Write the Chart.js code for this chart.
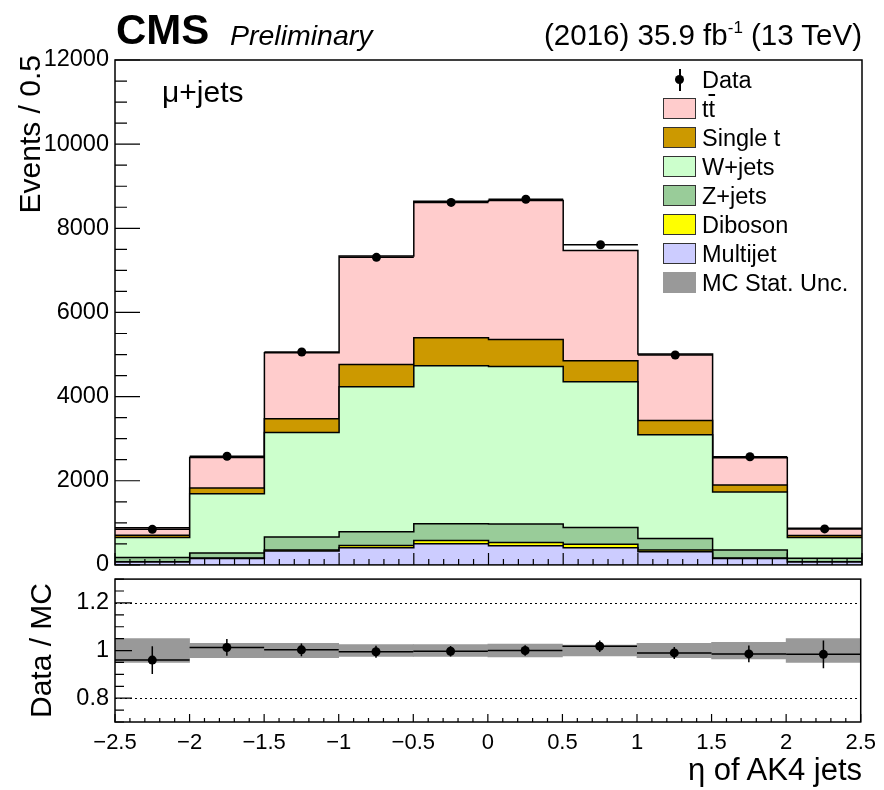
<!DOCTYPE html>
<html>
<head>
<meta charset="utf-8">
<script src="https://cdn.jsdelivr.net/npm/chart.js@4.4.1/dist/chart.umd.min.js"></script>
<style>
body { margin: 0; background: #fff; font-family: "Liberation Sans", Arial, sans-serif; }
#wrap { position: relative; width: 884px; height: 790px; overflow: hidden; }
canvas { position: absolute; left: 0; }
.t { position: absolute; white-space: nowrap; color: #000; line-height: 1; }
.leg { position: absolute; left: 663px; font-size: 23.5px; line-height: 1; }
.box { position: absolute; left: 0; width: 31px; height: 19px; border: 1px solid #333; }
.lab { position: absolute; left: 39px; white-space: nowrap; }
</style>
</head>
<body>
<div id="wrap">
  <canvas id="topPad" width="884" height="585" style="top:0"></canvas>
  <canvas id="ratioPad" width="884" height="231" style="top:559px"></canvas>

  <div class="t" style="left:116px;top:9px;font-size:42px;font-weight:bold">CMS</div>
  <div class="t" style="left:230px;top:21px;font-size:28.5px;font-style:italic">Preliminary</div>
  <div class="t" style="right:22px;top:20px;font-size:29.5px">(2016) 35.9 fb<span style="font-size:17px;position:relative;top:-12px">-1</span> (13 TeV)</div>
  <div class="t" style="left:162px;top:77px;font-size:30px">&mu;+jets</div>

  <div class="t" style="left:15px;top:455px;width:400px;text-align:right;font-size:30px;transform-origin:0 0;transform:rotate(-90deg)">Events / 0.5</div>
  <div class="t" style="left:26px;top:983px;width:400px;text-align:right;font-size:30px;transform-origin:0 0;transform:rotate(-90deg)">Data / MC</div>
  <div class="t" style="right:22px;top:754px;font-size:31px">&eta; of AK4 jets</div>

  <div id="legend"></div>
</div>
<script>
// binning in eta
const binEdges = [-2.5, -2, -1.5, -1, -0.5, 0, 0.5, 1, 1.5, 2, 2.5];
const binCenters = [-2.25, -1.75, -1.25, -0.75, -0.25, 0.25, 0.75, 1.25, 1.75, 2.25];

// stacked MC (events / 0.5), bottom to top
const multijet = [70, 150, 330, 410, 500, 455, 410, 310, 150, 70];
const diboson  = [5, 15, 25, 50, 80, 75, 80, 45, 15, 5];
const zjets    = [100, 120, 310, 330, 400, 440, 400, 270, 190, 85];
const wjets    = [475, 1405, 2480, 3445, 3755, 3745, 3465, 2470, 1380, 490];
const singleT  = [55, 140, 330, 525, 665, 640, 500, 335, 165, 50];
const ttbar    = [175, 720, 1570, 2580, 3240, 3305, 2620, 1585, 645, 170];

// data
const dataVals = [845, 2583, 5060, 7310, 8615, 8690, 7610, 4990, 2570, 855];

// ratio panel
const ratioVals = [0.960, 1.013, 1.003, 0.995, 0.997, 1.000, 1.018, 0.990, 0.986, 0.984];
const ratioErr  = [0.058, 0.035, 0.027, 0.025, 0.022, 0.022, 0.024, 0.025, 0.035, 0.058];
const mcStatUnc = [0.050, 0.030, 0.030, 0.025, 0.025, 0.027, 0.023, 0.030, 0.035, 0.050];

const yTicksRatio = [0.8, 1, 1.2];

const legendLabels = ['Data', 't<span style="text-decoration:overline">t</span>', 'Single t', 'W+jets', 'Z+jets', 'Diboson', 'Multijet', 'MC Stat. Unc.'];
const legendColors = [null, '#ffcccc', '#cc9900', '#ccffcc', '#99cc99', '#ffff00', '#ccccff', '#999999'];

// legend (html)
var leg = document.getElementById('legend');
for (var i = 0; i < legendLabels.length; i++) {
  var yc = 80 + i * 29;
  var row = document.createElement('div');
  row.className = 'leg';
  row.style.top = (yc - 11) + 'px';
  var mark = '';
  if (legendColors[i] == null) {
    mark = '<div style="position:absolute;left:12px;top:6px;width:9px;height:9px;border-radius:50%;background:#000"></div>' +
           '<div style="position:absolute;left:16px;top:0;width:1.5px;height:22px;background:#000"></div>';
  } else if (i == legendLabels.length - 1) {
    mark = '<div class="box" style="background:' + legendColors[i] + ';border-color:' + legendColors[i] + '"></div>';
  } else {
    mark = '<div class="box" style="background:' + legendColors[i] + '"></div>';
  }
  row.innerHTML = mark + '<div class="lab" style="top:0">' + legendLabels[i] + '</div>';
  leg.appendChild(row);
}

function stepPts(vals) {
  return binEdges.map(function (x, i) {
    return { x: x, y: vals[Math.min(i, vals.length - 1)] };
  });
}
function ptsAt(vals) {
  return binCenters.map(function (x, i) { return { x: x, y: vals[i] }; });
}
function minusFmt(v) {
  var s = String(Math.round(v * 10) / 10);
  return v < 0 ? '\u2212' + s.slice(1) : s;
}

// inward ROOT-style ticks, full frame, dotted ref lines and data x/y error bars
const rootPad = {
  id: 'rootPad',
  beforeDatasetsDraw(chart, args, opts) {
    const ctx = chart.ctx, a = chart.chartArea, ys = chart.scales.y;
    if (opts.dotted) {
      ctx.save();
      ctx.strokeStyle = '#000';
      ctx.lineWidth = 1;
      ctx.setLineDash([2, 3]);
      opts.dotted.forEach(function (v) {
        var py = Math.round(ys.getPixelForValue(v)) + 0.5;
        ctx.beginPath(); ctx.moveTo(a.left, py); ctx.lineTo(a.right, py); ctx.stroke();
      });
      ctx.restore();
    }
  },
  afterDatasetsDraw(chart, args, opts) {
    const ctx = chart.ctx, a = chart.chartArea;
    const xs = chart.scales.x, ys = chart.scales.y;
    ctx.save();
    ctx.strokeStyle = '#000';
    ctx.lineWidth = 1.5;
    // data error bars
    if (opts.errVals) {
      for (var i = 0; i < binCenters.length; i++) {
        var py = ys.getPixelForValue(opts.errVals[i]);
        ctx.beginPath();
        ctx.moveTo(xs.getPixelForValue(binEdges[i]), py);
        ctx.lineTo(xs.getPixelForValue(binEdges[i + 1]), py);
        if (opts.errY) {
          var px = xs.getPixelForValue(binCenters[i]);
          ctx.moveTo(px, ys.getPixelForValue(opts.errVals[i] - opts.errY[i]));
          ctx.lineTo(px, ys.getPixelForValue(opts.errVals[i] + opts.errY[i]));
        }
        ctx.stroke();
      }
    }
    // ticks
    function ticks(scale, t, horiz) {
      var n = Math.round((scale.max - scale.min) / t.minor);
      ctx.beginPath();
      for (var k = 0; k <= n; k++) {
        var v = scale.min + k * t.minor;
        var r = v / t.major;
        var len = Math.abs(r - Math.round(r)) < 1e-6 ? t.majLen : t.minLen;
        var p = scale.getPixelForValue(v);
        if (horiz) { ctx.moveTo(p, a.bottom); ctx.lineTo(p, a.bottom - len); }
        else { ctx.moveTo(a.left, p); ctx.lineTo(a.left + len, p); }
      }
      ctx.stroke();
    }
    ctx.lineWidth = 1.2;
    ticks(xs, opts.xt, true);
    ticks(ys, opts.yt, false);
    ctx.lineWidth = 1.5;
    ctx.strokeRect(a.left, a.top, a.right - a.left, a.bottom - a.top);
    ctx.restore();
  }
};

const tickFont = { family: '"Liberation Sans", Arial, sans-serif', size: 22 };
const yTickFont = { family: '"Liberation Sans", Arial, sans-serif', size: 23.5 };

// top pad: stacked step histograms
const stackSets = [
  { label: 'Multijet', vals: multijet, color: '#ccccff' },
  { label: 'Diboson', vals: diboson, color: '#ffff00' },
  { label: 'Z+jets', vals: zjets, color: '#99cc99' },
  { label: 'W+jets', vals: wjets, color: '#ccffcc' },
  { label: 'Single t', vals: singleT, color: '#cc9900' },
  { label: 'ttbar', vals: ttbar, color: '#ffcccc' }
];

const topDatasets = [{
  type: 'scatter',
  label: 'Data',
  data: ptsAt(dataVals),
  stack: 'data',
  showLine: false,
  pointRadius: 4.5,
  pointBackgroundColor: '#000',
  pointBorderWidth: 0
}];
stackSets.forEach(function (s, i) {
  topDatasets.push({
    type: 'line',
    label: s.label,
    data: stepPts(s.vals),
    stepped: 'before',
    backgroundColor: s.color,
    borderColor: '#000',
    borderWidth: 1.5,
    pointRadius: 0,
    fill: i == 0 ? 'origin' : '-1'
  });
});

new Chart(document.getElementById('topPad'), {
  type: 'line',
  data: { datasets: topDatasets },
  options: {
    responsive: false,
    animation: false,
    events: [],
    layout: { padding: { top: 60, right: 22, bottom: 16, left: 0 } },
    plugins: {
      legend: { display: false },
      tooltip: { enabled: false },
      rootPad: {
        errVals: dataVals,
        xt: { major: 0.5, minor: 0.1, majLen: 12, minLen: 6 },
        yt: { major: 2000, minor: 500, majLen: 25, minLen: 12 }
      }
    },
    scales: {
      x: { type: 'linear', min: -2.5, max: 2.5, display: false, offset: false },
      y: {
        stacked: true,
        min: 0, max: 12000,
        afterFit: function (s) { s.width = 115; },
        grid: { display: false, drawTicks: false },
        border: { display: false },
        ticks: { stepSize: 2000, padding: 6, color: '#000', font: yTickFont, callback: function (v) { return String(v); } }
      }
    }
  },
  plugins: [rootPad]
});

// ratio pad
new Chart(document.getElementById('ratioPad'), {
  type: 'bar',
  data: {
    datasets: [{
      type: 'scatter',
      label: 'Data / MC',
      data: ptsAt(ratioVals),
      showLine: false,
      pointRadius: 4.5,
      pointBackgroundColor: '#000',
      pointBorderWidth: 0
    }, {
      type: 'bar',
      label: 'MC Stat. Unc.',
      data: binCenters.map(function (x, i) { return { x: x, y: [1 - mcStatUnc[i], 1 + mcStatUnc[i]] }; }),
      backgroundColor: '#999999',
      borderWidth: 0,
      barPercentage: 1,
      categoryPercentage: 1
    }]
  },
  options: {
    responsive: false,
    animation: false,
    events: [],
    layout: { padding: { top: 5, right: 22, bottom: 28, left: 0 } },
    plugins: {
      legend: { display: false },
      tooltip: { enabled: false },
      rootPad: {
        dotted: [0.8, 1.2],
        errVals: ratioVals,
        errY: ratioErr,
        xt: { major: 0.5, minor: 0.1, majLen: 8, minLen: 4 },
        yt: { major: 0.2, minor: 0.05, majLen: 17, minLen: 9 }
      }
    },
    scales: {
      x: {
        type: 'linear', min: -2.5, max: 2.5, offset: false,
        afterFit: function (s) { s.height = 40; },
        grid: { display: false, drawTicks: false },
        border: { display: false },
        ticks: { stepSize: 0.5, padding: 8, maxRotation: 0, autoSkip: false, color: '#000', font: tickFont, callback: minusFmt }
      },
      y: {
        min: 0.7, max: 1.3,
        afterFit: function (s) { s.width = 115; },
        afterBuildTicks: function (s) { s.ticks = yTicksRatio.map(function (v) { return { value: v }; }); },
        grid: { display: false, drawTicks: false },
        border: { display: false },
        ticks: { padding: 6, color: '#000', font: yTickFont, callback: minusFmt }
      }
    }
  },
  plugins: [rootPad]
});
</script>
</body>
</html>
